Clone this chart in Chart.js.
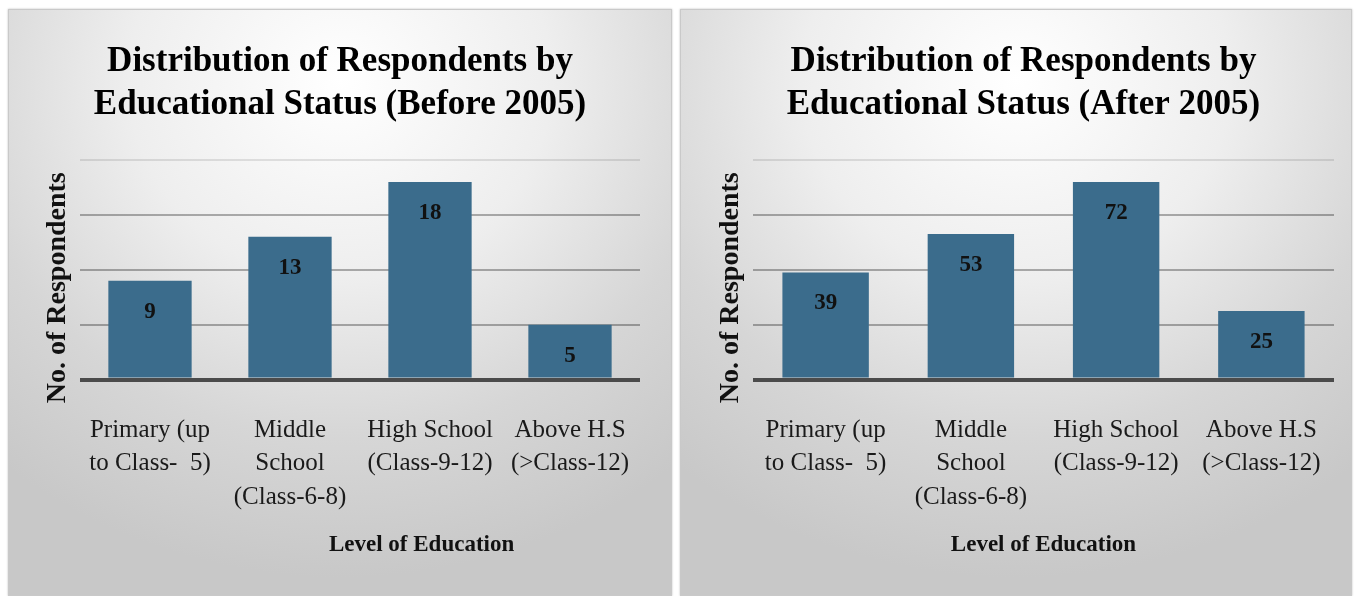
<!DOCTYPE html>
<html>
<head>
<meta charset="utf-8">
<script src="https://cdn.jsdelivr.net/npm/chart.js@4"></script>
<style>
  body { margin: 0; background: #fff; width: 1355px; height: 596px; overflow: hidden; position: relative; }
  .panel {
    position: absolute; top: 9px; height: 587px;
    border: 1px solid #c9c9c9; box-sizing: border-box;
    box-shadow: 0 0 2px rgba(0,0,0,0.25);
    background: radial-gradient(ellipse 80% 85% at 50% 12%, #ffffff 0%, #eeeeee 40%, #d6d6d6 72%, #c8c8c8 100%);
  }
  #p1 { left: 8px; width: 664px; }
  #p2 { left: 680px; width: 672px; }
</style>
</head>
<body>
<div class="panel" id="p1"><canvas id="before"></canvas></div>
<div class="panel" id="p2"><canvas id="after"></canvas></div>
<script>
const categories = [
  ['Primary (up', 'to Class-  5)'],
  ['Middle', 'School', '(Class-6-8)'],
  ['High School', '(Class-9-12)'],
  ['Above H.S', '(>Class-12)']
];
const before2005 = [9, 13, 18, 5];
const after2005 = [39, 53, 72, 25];

const serif = "'Liberation Serif', 'Times New Roman', serif";
const barColor = '#3b6c8c';

// value labels inside the bars, near the top
const barLabels = {
  id: 'barLabels',
  afterDraw(chart) {
    const ctx = chart.ctx;
    const meta = chart.getDatasetMeta(0);
    ctx.save();
    ctx.font = 'bold 23px ' + serif;
    ctx.fillStyle = '#111';
    ctx.textAlign = 'center';
    ctx.textBaseline = 'middle';
    meta.data.forEach((bar, i) => {
      ctx.fillText(chart.data.datasets[0].data[i], bar.x, bar.y + 31);
    });
    ctx.restore();
  }
};

// axis titles drawn by hand so they can sit off-centre like the original
const axisTitles = {
  id: 'axisTitles',
  afterDraw(chart, args, opts) {
    const ctx = chart.ctx;
    const area = chart.chartArea;
    ctx.save();
    ctx.fillStyle = '#111';
    ctx.textAlign = 'center';
    ctx.textBaseline = 'middle';
    ctx.font = 'bold 23px ' + serif;
    ctx.fillText(opts.x, area.left + opts.xRatio * (area.right - area.left), area.bottom + 166);
    ctx.translate(area.left - 22, (area.top + area.bottom) / 2 + 18);
    ctx.rotate(-Math.PI / 2);
    ctx.font = 'bold 28px ' + serif;
    ctx.fillText(opts.y, 0, 0);
    ctx.restore();
  }
};

function makeChart(id, title, values, max, step, xRatio, padLeft, axisWidth, padRight) {
  return new Chart(document.getElementById(id), {
    type: 'bar',
    data: {
      labels: categories,
      datasets: [{
        data: values,
        backgroundColor: barColor,
        barPercentage: 0.595,
        categoryPercentage: 1
      }]
    },
    options: {
      responsive: true,
      maintainAspectRatio: false,
      animation: false,
      layout: { padding: { left: padLeft, right: padRight, top: 0, bottom: 81 } },
      plugins: {
        legend: { display: false },
        tooltip: { enabled: false },
        title: {
          display: true,
          text: title,
          color: '#000',
          font: { family: serif, size: 35, weight: 'bold', lineHeight: 1.229 },
          padding: { top: 30.5, bottom: 33.5 }
        },
        axisTitles: { x: 'Level of Education', y: 'No. of Respondents', xRatio: xRatio }
      },
      scales: {
        x: {
          grid: { display: false, drawTicks: true, tickLength: 34 },
          border: { display: false },
          ticks: {
            color: '#1a1a1a',
            padding: 0,
            maxRotation: 0,
            autoSkip: false,
            font: { family: serif, size: 25, lineHeight: 1.34 }
          }
        },
        y: {
          min: 0,
          max: max,
          z: 1,
          afterFit: s => { s.width = axisWidth; },
          border: { display: false },
          grid: {
            drawTicks: false,
            color: c => c.tick.value === 0 ? '#4b4b4b' : (c.tick.value === max ? 'rgba(0,0,0,0.1)' : 'rgba(0,0,0,0.3)'),
            lineWidth: c => c.tick.value === 0 ? 4 : 2
          },
          ticks: { display: false, stepSize: step }
        }
      }
    },
    plugins: [barLabels, axisTitles]
  });
}

makeChart('before', ['Distribution of Respondents by', 'Educational Status (Before 2005)'], before2005, 20, 5, 0.61, 31, 40, 31);
makeChart('after', ['Distribution of Respondents by', 'Educational Status (After 2005)'], after2005, 80, 20, 0.5, 32, 40, 17);
</script>
</body>
</html>
